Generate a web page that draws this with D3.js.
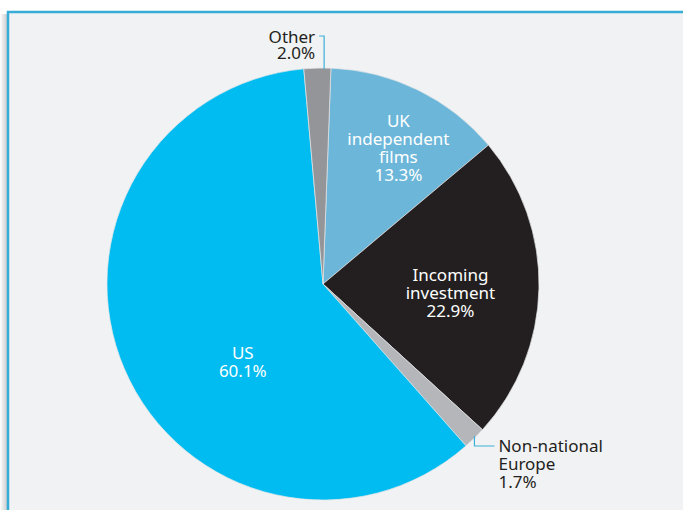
<!DOCTYPE html>
<html>
<head>
<meta charset="utf-8">
<script src="https://cdn.jsdelivr.net/npm/d3@7"></script>
<style>
  body { margin: 0; background: #ffffff; }
  svg { display: block; font-family: "Noto Sans", sans-serif; }
</style>
</head>
<body>
<svg id="chart" width="683" height="510"></svg>
<script>

// slice data, clockwise from the top
var categories = [ 'UK independent films', 'Incoming investment', 'Non-national Europe', 'US', 'Other' ];
var shares = [ 13.3, 22.9, 1.7, 60.1, 2.0 ];
var labelLines = [
    [ 'UK', 'independent', 'films', '13.3%' ],
    [ 'Incoming', 'investment', '22.9%' ],
    [ 'Non-national', 'Europe', '1.7%' ],
    [ 'US', '60.1%' ],
    [ 'Other', '2.0%' ]
];

var colors = [ '#6cb7d9', '#231f20', '#b4b6b9', '#00bcf1', '#939598' ];

var width = 683,
    height = 510,
    cx = 323,
    cy = 284,
    radius = 216,
    lineH = 18,
    fontSize = '17px';

var svg = d3.select('#chart');

// frame: shadow, panel and blue rule
var defs = svg.append('defs');
var grad = defs.append('linearGradient').attr('id', 'shadow');
grad.append('stop').attr('offset', '0%').attr('stop-color', '#ffffff');
grad.append('stop').attr('offset', '100%').attr('stop-color', '#c4c5c7');

svg.append('rect')
    .attr('x', 0).attr('y', 14)
    .attr('width', 8).attr('height', height)
    .attr('fill', 'url(#shadow)');

svg.append('rect')
    .attr('x', 8).attr('y', 12)
    .attr('width', width).attr('height', height)
    .attr('fill', '#f1f2f4');

svg.append('path')
    .attr('d', 'M8,' + height + 'V12H' + width)
    .attr('fill', 'none')
    .attr('stroke', '#36acd6')
    .attr('stroke-width', 2.5);

// pie
var offset = 2.1 * Math.PI / 180;

var pie = d3.pie()
    .sort(null)
    .startAngle( offset )
    .endAngle( offset + 2 * Math.PI )
    .value( function ( d ) { return d; } );

var arcs = pie( shares );

var arc = d3.arc()
    .innerRadius( 0 )
    .outerRadius( radius );

var g = svg.append('g')
    .attr('transform', 'translate(' + cx + ',' + cy + ')');

g.selectAll('.slice')
    .data( arcs )
    .enter().append('path')
    .attr('class', 'slice')
    .attr('d', arc)
    .attr('fill', function ( d, i ) { return colors[ i ]; })
    .attr('stroke', '#e4e5e7')
    .attr('stroke-width', 0.7);

// labels inside the slices
var inner = {
    0: { k: 0.70, dx: 9, dy: 0 },
    1: { k: 0.59, dx: 0, dy: 6 },
    3: { k: 0.50, dx: 19, dy: 35 }
};

Object.keys( inner ).forEach( function ( key ) {

    var i = +key;
    var o = inner[ i ];
    var c = d3.arc().innerRadius( radius * o.k ).outerRadius( radius * o.k ).centroid( arcs[ i ] );
    var lines = labelLines[ i ];
    var top = c[ 1 ] + o.dy - ( lines.length - 1 ) * lineH / 2;

    var t = g.append('text')
        .attr('text-anchor', 'middle')
        .attr('fill', '#ffffff')
        .style('font-size', fontSize);

    lines.forEach( function ( s, j ) {
        t.append('tspan')
            .attr('x', c[ 0 ] + o.dx)
            .attr('y', top + j * lineH)
            .attr('dy', '0.35em')
            .text( s );
    });

});

// outside labels with leader lines
function edge ( i, t ) {
    var a = arcs[ i ].startAngle + ( arcs[ i ].endAngle - arcs[ i ].startAngle ) * t;
    return [ Math.sin( a ) * radius, -Math.cos( a ) * radius ];
}

var leader = '#3cb0d8';

// Other
var pO = edge( 4, 0.75 );
g.append('path')
    .attr('d', 'M' + pO[ 0 ] + ',' + ( pO[ 1 ] + 1 ) + 'V' + ( pO[ 1 ] - 32 ) + 'h-5')
    .attr('fill', 'none')
    .attr('stroke', leader)
    .attr('stroke-width', 1.2);

var tO = g.append('text')
    .attr('text-anchor', 'end')
    .attr('fill', '#231f20')
    .style('font-size', fontSize);

labelLines[ 4 ].forEach( function ( s, j ) {
    tO.append('tspan')
        .attr('x', pO[ 0 ] - 9)
        .attr('y', pO[ 1 ] - 25 + j * 16)
        .text( s );
});

// Non-national Europe
var pN = edge( 2, 0.5 );
g.append('path')
    .attr('d', 'M' + pN[ 0 ] + ',' + ( pN[ 1 ] - 2 ) + 'V' + ( pN[ 1 ] + 8 ) + 'H' + ( pN[ 0 ] + 20 ))
    .attr('fill', 'none')
    .attr('stroke', leader)
    .attr('stroke-width', 1.2);

var tN = g.append('text')
    .attr('text-anchor', 'start')
    .attr('fill', '#231f20')
    .style('font-size', fontSize);

labelLines[ 2 ].forEach( function ( s, j ) {
    tN.append('tspan')
        .attr('x', pN[ 0 ] + 24)
        .attr('y', pN[ 1 ] + 14 + j * lineH)
        .text( s );
});

</script>
</body>
</html>
